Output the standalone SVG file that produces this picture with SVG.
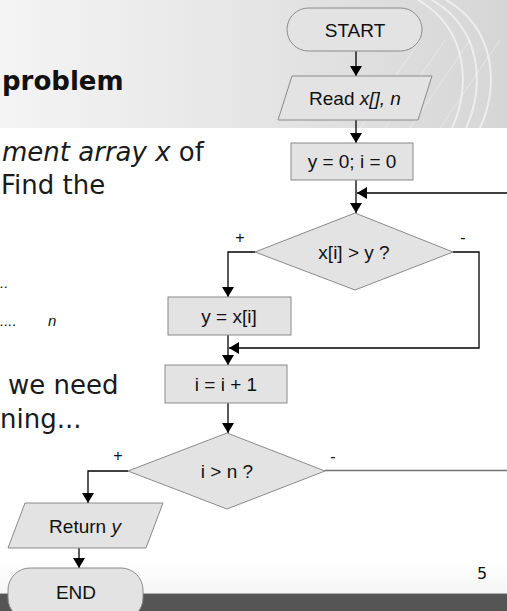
<svg xmlns="http://www.w3.org/2000/svg" width="507" height="611" viewBox="0 0 507 611">
<style>
.node{fill:#e3e3e3;stroke:#8a8a8a;stroke-width:1}
.lbl{font-family:"Liberation Sans",Arial,sans-serif;font-size:19px;fill:#111;text-anchor:middle}
.sgn{font-family:"Liberation Sans",Arial,sans-serif;font-size:16px;fill:#111;text-anchor:middle}
.body{font-family:"DejaVu Sans",Verdana,sans-serif;font-size:26px;fill:#1a1a1a}
.small{font-family:"Liberation Sans",Arial,sans-serif;font-size:15px;fill:#111;font-style:italic}
.conn{fill:none;stroke:#000;stroke-width:1.3}
</style>
<defs>
<linearGradient id="hdr" x1="0" y1="0" x2="1" y2="0">
<stop offset="0" stop-color="#f4f4f4"/>
<stop offset="1" stop-color="#d6d6d6"/>
</linearGradient>
<linearGradient id="foot" x1="0" y1="0" x2="0" y2="1">
<stop offset="0" stop-color="#ffffff"/>
<stop offset="1" stop-color="#f6f6f6"/>
</linearGradient>
<marker id="ah" markerWidth="10" markerHeight="12" refX="10" refY="6" orient="auto" markerUnits="userSpaceOnUse">
<path d="M0,0 L10,6 L0,12 Z" fill="#000"/>
</marker>
</defs>
<!-- background -->
<rect x="0" y="0" width="507" height="611" fill="#ffffff"/>
<rect x="0" y="0" width="507" height="128" fill="url(#hdr)"/>
<g fill="none" stroke="#ffffff" stroke-opacity="0.55" stroke-width="2">
<path d="M418,0 C470,30 470,90 452,128"/>
<path d="M432,0 C484,30 484,90 466,128"/>
<path d="M446,0 C498,30 498,90 480,128"/>
</g>
<g fill="none" stroke="#ffffff" stroke-opacity="0.35" stroke-width="1">
<path d="M360,128 L420,40"/><path d="M385,128 L445,40"/><path d="M410,128 L470,40"/><path d="M440,128 L500,40"/>
</g>
<rect x="0" y="560" width="507" height="33" fill="url(#foot)"/>
<rect x="0" y="593" width="507" height="18" fill="#555555"/>
<line x1="0" y1="593.5" x2="507" y2="593.5" stroke="#b0b0b0" stroke-width="1"/>
<!-- slide text -->
<text x="2" y="90" font-family="'DejaVu Sans',Verdana,sans-serif" font-size="26" font-weight="bold" fill="#111">problem</text>
<text class="body" x="2" y="161"><tspan font-style="italic">ment array x</tspan> of</text>
<text class="body" x="1" y="194">Find the</text>
<text class="small" x="0" y="288">..</text>
<text class="small" x="0" y="326">....</text>
<text class="small" x="48" y="326">n</text>
<text class="body" x="8" y="394">we need</text>
<text class="body" x="0" y="428">ning...</text>
<text x="477" y="579" font-family="'DejaVu Sans',Verdana,sans-serif" font-size="16" fill="#111">5</text>
<!-- connectors -->
<g id="connectors">
<path class="conn" d="M356,51 V76" marker-end="url(#ah)"/>
<path class="conn" d="M356,120 V143" marker-end="url(#ah)"/>
<path class="conn" d="M356,180 V213" marker-end="url(#ah)"/>
<path class="conn" d="M507,193 H357" marker-end="url(#ah)"/>
<path class="conn" d="M255,252 H228 V297" marker-end="url(#ah)"/>
<path class="conn" d="M453,252 H479 V348 H229" marker-end="url(#ah)"/>
<path class="conn" d="M228,335 V365" marker-end="url(#ah)"/>
<path class="conn" d="M228,403 V433" marker-end="url(#ah)"/>
<path class="conn" d="M128,471 H88 V503" marker-end="url(#ah)"/>
<path d="M325,470.5 H507" fill="none" stroke="#707070" stroke-width="1.3"/>
<path class="conn" d="M79,548 V568" marker-end="url(#ah)"/>
<text class="sgn" x="240" y="243">+</text>
<text class="sgn" x="463" y="243">-</text>
<text class="sgn" x="118" y="461">+</text>
<text class="sgn" x="333" y="462">-</text>
</g>
<!-- nodes -->
<g id="start">
<rect class="node" x="287" y="8" width="135" height="43" rx="21.5"/>
<text class="lbl" x="355" y="37">START</text>
</g>
<g id="read">
<polygon class="node" points="292,76 432,76 418,120 278,120"/>
<text class="lbl" x="355" y="105">Read <tspan font-style="italic">x[], n</tspan></text>
</g>
<g id="init">
<rect class="node" x="291" y="143" width="122" height="37"/>
<text class="lbl" x="352" y="168">y = 0; i = 0</text>
</g>
<g id="cond1">
<polygon class="node" points="355,213 453,252 355,290 255,252"/>
<text class="lbl" x="354" y="259">x[i] &gt; y ?</text>
</g>
<g id="assign">
<rect class="node" x="168" y="297" width="123" height="38"/>
<text class="lbl" x="229" y="323">y = x[i]</text>
</g>
<g id="incr">
<rect class="node" x="165" y="365" width="122" height="38"/>
<text class="lbl" x="226" y="391">i = i + 1</text>
</g>
<g id="cond2">
<polygon class="node" points="227,433 325,471 227,509 128,471"/>
<text class="lbl" x="227" y="478">i &gt; n ?</text>
</g>
<g id="ret">
<polygon class="node" points="25,503 163,503 146,548 8,548"/>
<text class="lbl" x="85" y="533">Return <tspan font-style="italic">y</tspan></text>
</g>
<g id="end">
<rect class="node" x="8" y="568" width="135" height="52" rx="22"/>
<text class="lbl" x="76" y="599">END</text>
</g>
</svg>
